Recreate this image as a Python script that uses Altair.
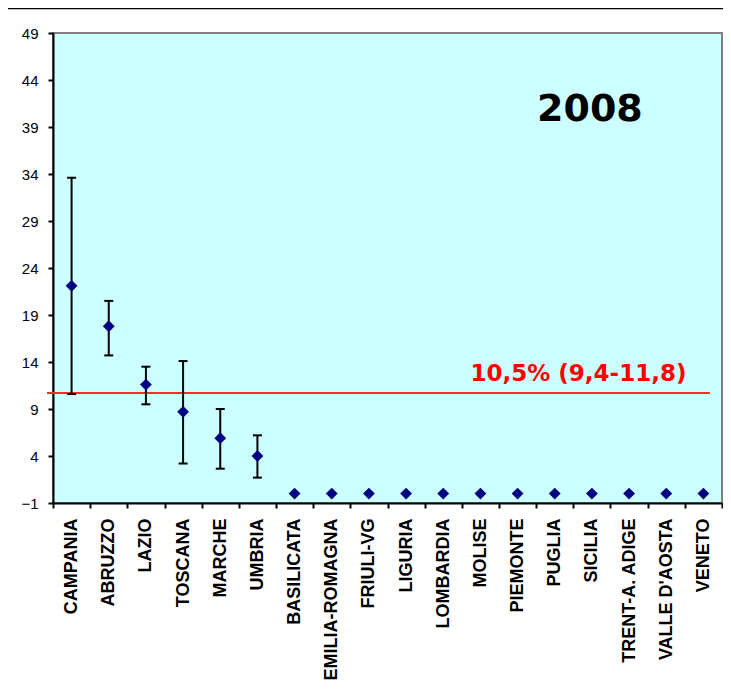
import altair as alt
import pandas as pd

regions = ["CAMPANIA", "ABRUZZO", "LAZIO", "TOSCANA", "MARCHE", "UMBRIA",
           "BASILICATA", "EMILIA-ROMAGNA", "FRIULI-VG", "LIGURIA", "LOMBARDIA",
           "MOLISE", "PIEMONTE", "PUGLIA", "SICILIA", "TRENT-A. ADIGE",
           "VALLE D'AOSTA", "VENETO"]
values = [22.1, 17.8, 11.6, 8.7, 5.9, 4.0, 0, 0, 0, 0, 0, 0, 0, 0, 0, 0, 0, 0]
lower = [10.6, 14.7, 9.5, 3.2, 2.65, 1.7] + [None] * 12
upper = [33.6, 20.5, 13.5, 14.1, 9.0, 6.2] + [None] * 12
y_ticks = [-1, 4, 9, 14, 19, 24, 29, 34, 39, 44, 49]

ref_value = 10.7
ref_label = "10,5% (9,4-11,8)"
year_label = "2008"
year_region = "SICILIA"
year_y = 40.8
label_region = "VENETO"

df = pd.DataFrame({"region": regions, "value": values, "lower": lower, "upper": upper})
err = df.dropna()
ref_df = pd.DataFrame({"v": [ref_value], "label": [ref_label], "region": [label_region]})
year_df = pd.DataFrame({"v": [year_y], "label": [year_label], "region": [year_region]})

x_enc = alt.X("region:N", sort=regions,
              scale=alt.Scale(paddingInner=0, paddingOuter=0, domain=regions),
              axis=alt.Axis(title=None, labelAngle=-90, labelFont="Liberation Sans",
                            labelFontWeight="bold", labelFontSize=18, labelColor="black",
                            tickBand="extent", domainColor="black", domainWidth=2,
                            tickColor="black", tickWidth=2, tickSize=5, labelPadding=10))
y_scale = alt.Scale(domain=[-1, 49], nice=False, zero=False)
y_axis = alt.Axis(values=y_ticks, title=None, labelFont="Liberation Sans", labelFontSize=15,
                  labelColor="black", tickColor="black", tickWidth=2, tickSize=5,
                  domainColor="black", domainWidth=2, grid=False, labelPadding=10)

top_line = alt.Chart(ref_df).mark_rule(color="black", strokeWidth=2.5).encode(
    x=alt.value(-45), x2=alt.value(670), y=alt.value(-25))

ref_line = alt.Chart(ref_df).mark_rule(color="#FF2A2A", strokeWidth=2).encode(
    y=alt.Y("v:Q", scale=y_scale, axis=y_axis), x=alt.value(-6), x2=alt.value(657))

ref_text = alt.Chart(ref_df).mark_text(font="DejaVu Sans", fontWeight="bold", fontSize=23,
                                       color="#FF0000", align="right", baseline="alphabetic",
                                       dx=-17, dy=-12).encode(
    x=x_enc, y=alt.Y("v:Q", scale=y_scale, axis=y_axis), text="label:N")

year_text = alt.Chart(year_df).mark_text(font="DejaVu Sans", fontWeight="bold", fontSize=38,
                                         color="black", align="center", baseline="middle",
                                         dx=-2).encode(
    x=x_enc, y=alt.Y("v:Q", scale=y_scale, axis=y_axis), text="label:N")

bars = alt.Chart(err).mark_rule(color="black", strokeWidth=2).encode(
    x=x_enc, y=alt.Y("lower:Q", scale=y_scale, axis=y_axis), y2="upper:Q")
cap_lo = alt.Chart(err).mark_tick(color="black", thickness=2, size=9, opacity=1).encode(
    x=x_enc, y=alt.Y("lower:Q", scale=y_scale, axis=y_axis))
cap_hi = alt.Chart(err).mark_tick(color="black", thickness=2, size=9, opacity=1).encode(
    x=x_enc, y=alt.Y("upper:Q", scale=y_scale, axis=y_axis))

points = alt.Chart(df).mark_point(shape="diamond", filled=True, color="#000080",
                                  size=140, opacity=1).encode(
    x=x_enc, y=alt.Y("value:Q", scale=y_scale, axis=y_axis))

chart = alt.layer(top_line, ref_line, bars, cap_lo, cap_hi, points, ref_text, year_text).properties(
    width=669, height=470,
    padding={"left": 45, "top": 25, "right": 1, "bottom": 180},
    autosize=alt.AutoSizeParams(type="none"),
    background="white",
).configure_view(fill="#CCFFFF", stroke="#808080", strokeWidth=2)

chart.save("out.html", embed_options={"renderer": "svg", "actions": False})
